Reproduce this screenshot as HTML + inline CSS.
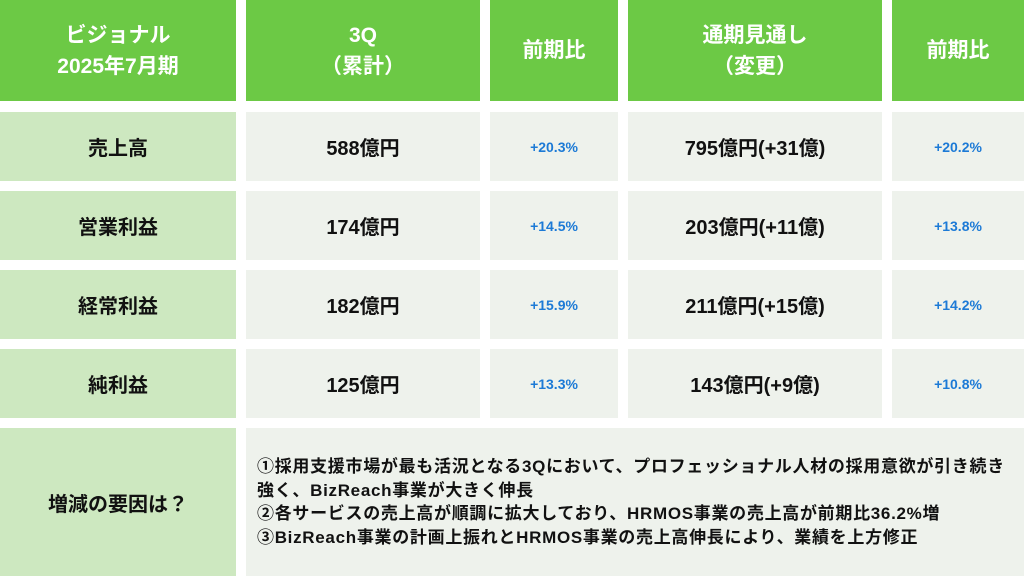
<!DOCTYPE html>
<html><head><meta charset="utf-8"><style>
body{margin:0;width:1024px;height:576px;background:#fff;overflow:hidden;font-family:"Liberation Sans","Noto Sans CJK JP",sans-serif;font-weight:bold}
.c{position:absolute;display:flex;align-items:center;justify-content:center;text-align:center}
.h{background:#6cc945;color:#fff;font-size:21px;line-height:31px}
.l{background:#cde8c0;color:#111;font-size:20px}
.d{background:#eef2ec;color:#111;font-size:20px}
.p{background:#eef2ec;color:#1c7ad6;font-size:14px}
</style></head><body>
<div class="c h" style="left:0;top:0;width:236px;height:101px">ビジョナル<br>2025年7月期</div>
<div class="c h" style="left:246px;top:0;width:234px;height:101px">3Q<br>（累計）</div>
<div class="c h" style="left:490px;top:0;width:128px;height:101px">前期比</div>
<div class="c h" style="left:628px;top:0;width:254px;height:101px">通期見通し<br>（変更）</div>
<div class="c h" style="left:892px;top:0;width:132px;height:101px">前期比</div>
<div id="rows"></div>
<div class="c l" style="left:0;top:428px;width:236px;height:148px">増減の要因は？</div>
<div class="c d" style="left:246px;top:428px;width:778px;height:148px;justify-content:flex-start;text-align:left;font-size:17px;line-height:23.5px;letter-spacing:0.7px;white-space:nowrap"><div style="padding-left:11px">①採用支援市場が最も活況となる3Qにおいて、プロフェッショナル人材の採用意欲が引き続き<br>強く、BizReach事業が大きく伸長<br>②各サービスの売上高が順調に拡大しており、HRMOS事業の売上高が前期比36.2%増<br>③BizReach事業の計画上振れとHRMOS事業の売上高伸長により、業績を上方修正</div></div>
<script>
const labels=["売上高","営業利益","経常利益","純利益"];
const q3=["588億円","174億円","182億円","125億円"];
const yoy1=["+20.3%","+14.5%","+15.9%","+13.3%"];
const fc=["795億円(+31億)","203億円(+11億)","211億円(+15億)","143億円(+9億)"];
const yoy2=["+20.2%","+13.8%","+14.2%","+10.8%"];
const cols=[[0,236,"l"],[246,234,"d"],[490,128,"p"],[628,254,"d"],[892,132,"p"]];
const names=["row-label","q3-value","q3-yoy","forecast-value","forecast-yoy"];
const host=document.getElementById('rows');
labels.forEach((lab,i)=>{
  const vals=[lab,q3[i],yoy1[i],fc[i],yoy2[i]];
  const top=112+i*79;
  cols.forEach((c,j)=>{
    const el=document.createElement('div');
    el.className='c '+c[2];
    el.style.cssText=`left:${c[0]}px;top:${top}px;width:${c[1]}px;height:69px`;
    el.textContent=vals[j];
    
    
    host.appendChild(el);
  });
});
</script>
</body></html>
